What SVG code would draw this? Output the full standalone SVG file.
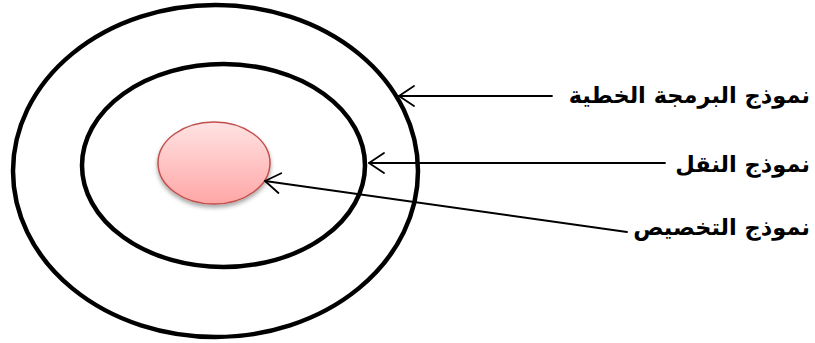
<svg xmlns="http://www.w3.org/2000/svg" width="815" height="343" viewBox="0 0 815 343">
<style>
.ring{fill:none;stroke:#000;stroke-width:4.5}
.conn{fill:none;stroke:#000;stroke-width:1.8;stroke-linecap:round;stroke-linejoin:round}
.lbl{font-family:"DejaVu Sans",sans-serif;font-weight:bold;font-size:22.5px;fill:#000;text-anchor:end}
</style>
<defs>
<linearGradient id="pink" x1="0" y1="0" x2="0" y2="1">
<stop offset="0" stop-color="#FFE3E3"/>
<stop offset="1" stop-color="#FFA6A6"/>
</linearGradient>
<filter id="sh" x="-20%" y="-20%" width="140%" height="150%">
<feDropShadow dx="0" dy="3" stdDeviation="2.2" flood-color="#000" flood-opacity="0.35"/>
</filter>
<marker id="arr" viewBox="0 0 20 24" refX="19" refY="12" markerWidth="20" markerHeight="24" markerUnits="userSpaceOnUse" orient="auto">
<path d="M4,2 L19,12 L4,22" fill="none" stroke="#000" stroke-width="1.8" stroke-linecap="round" stroke-linejoin="round"/>
</marker>
</defs>
<g id="outer"><ellipse class="ring" cx="215.5" cy="171" rx="202.5" ry="166"/></g>
<g id="inner"><ellipse class="ring" cx="223.5" cy="165.5" rx="141.5" ry="101.5"/></g>
<g id="core"><ellipse cx="214" cy="163" rx="56" ry="41" fill="url(#pink)" stroke="#C0504D" stroke-width="1.5" filter="url(#sh)"/></g>
<g id="connectors">
<path class="conn" d="M552,96 L399,96" marker-end="url(#arr)"/>
<path class="conn" d="M665,163 L369,163" marker-end="url(#arr)"/>
<path class="conn" d="M627,232 L265,181" marker-end="url(#arr)"/>
</g>
<g id="label1"><text class="lbl" x="810" y="103">نموذج البرمجة الخطية</text></g>
<g id="label2"><text class="lbl" x="810" y="172">نموذج النقل</text></g>
<g id="label3"><text class="lbl" x="810" y="235">نموذج التخصيص</text></g>
</svg>
